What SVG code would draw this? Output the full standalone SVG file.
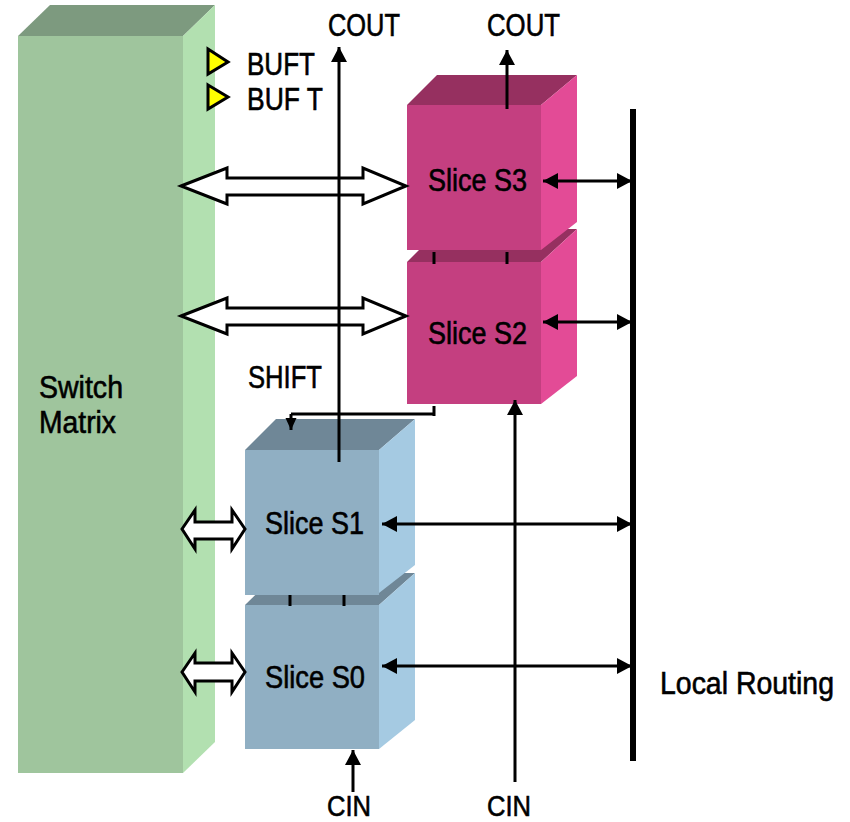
<svg xmlns="http://www.w3.org/2000/svg" width="850" height="822" viewBox="0 0 850 822">
<style>
text{font-family:"Liberation Sans",Arial,sans-serif;font-size:31px;fill:#000;stroke:#000;stroke-width:.6px}
.ln{stroke:#000;stroke-width:3;fill:none}
.hollow{fill:#fff;stroke:#000;stroke-width:3;stroke-linejoin:miter}
.fg{fill:#9fc59d}.tg{fill:#7d9a7f}.rg{fill:#b2e0b0}
.fm{fill:#c43f80}.tm{fill:#963060}.rm{fill:#e34b96}
.fb{fill:#90afc3}.tb{fill:#6f8797}.rb{fill:#a5cae2}
.cin{font-size:29px}
</style>
<defs>
<marker id="a" markerUnits="userSpaceOnUse" markerWidth="16" markerHeight="16" refX="15" refY="8" orient="auto-start-reverse"><path d="M0 0L15 8L0 16Z" fill="#000"/></marker>
<marker id="s" markerUnits="userSpaceOnUse" markerWidth="12" markerHeight="12" refX="12" refY="5.5" orient="auto"><path d="M0 0L12 5.5L0 11Z" fill="#000"/></marker>
</defs>
<g id="switch-matrix">
<polygon class="tg" points="18,36 50,5 215,5 183,36"/>
<polygon class="rg" points="183,36 215,5 215,742 183,773"/>
<rect class="fg" x="18" y="36" width="165" height="737"/>
<text x="39" y="398" textLength="84" lengthAdjust="spacingAndGlyphs">Switch</text>
<text x="39" y="433" textLength="77" lengthAdjust="spacingAndGlyphs">Matrix</text>
</g>
<g id="slice-s2">
<polygon class="tm" points="407,262 440,229 577,229 541,262"/>
<polygon class="rm" points="541,262 577,229 577,376 541,404"/>
<rect class="fm" x="407" y="262" width="134" height="142"/>
<text x="428" y="344" textLength="99" lengthAdjust="spacingAndGlyphs">Slice S2</text>
</g>
<g id="slice-s3">
<polygon class="tm" points="407,105 437,75 577,75 541,105"/>
<polygon class="rm" points="541,105 577,75 577,222 541,250"/>
<rect class="fm" x="407" y="105" width="134" height="145"/>
<text x="428" y="191" textLength="99" lengthAdjust="spacingAndGlyphs">Slice S3</text>
</g>
<g id="slice-s0">
<polygon class="tb" points="245,605 278,573 415,573 379,605"/>
<polygon class="rb" points="379,605 415,573 415,720 379,749"/>
<rect class="fb" x="245" y="605" width="134" height="144"/>
<text x="265" y="688" textLength="100" lengthAdjust="spacingAndGlyphs">Slice S0</text>
</g>
<g id="slice-s1">
<polygon class="tb" points="245,450 276,419 415,419 379,450"/>
<polygon class="rb" points="379,450 415,419 415,565 379,593"/>
<rect class="fb" x="245" y="450" width="134" height="145"/>
<text x="265" y="534" textLength="99" lengthAdjust="spacingAndGlyphs">Slice S1</text>
</g>
<g id="buft-1">
<polygon points="208,49 228,62 208,74" fill="#ff0" stroke="#000" stroke-width="3"/>
<text x="247" y="75" textLength="68" lengthAdjust="spacingAndGlyphs">BUFT</text>
</g>
<g id="buft-2">
<polygon points="208,85 228,97 208,109" fill="#ff0" stroke="#000" stroke-width="3"/>
<text x="247" y="110" textLength="76" lengthAdjust="spacingAndGlyphs">BUF T</text>
</g>
<g id="connectors">
<polygon class="hollow" points="181,186 227,168 227,178 363,178 363,168 406,186 363,204 363,195 227,195 227,204"/>
<polygon class="hollow" points="181,316 227,298 227,308 363,308 363,298 406,316 363,334 363,325 227,325 227,334"/>
<polygon class="hollow" points="182,529 195,510 195,522 232,522 232,510 245,529 232,549 232,539 195,539 195,549"/>
<polygon class="hollow" points="182,672 195,653 195,663 232,663 232,653 245,672 232,692 232,681 195,681 195,692"/>
<path class="ln" d="M339 462V47" marker-end="url(#a)"/>
<path class="ln" d="M507 109V50" marker-end="url(#a)"/>
<path class="ln" d="M543 181H632" marker-start="url(#a)" marker-end="url(#a)"/>
<path class="ln" d="M543 322H632" marker-start="url(#a)" marker-end="url(#a)"/>
<path class="ln" d="M382 524H632" marker-start="url(#a)" marker-end="url(#a)"/>
<path class="ln" d="M382 666H632" marker-start="url(#a)" marker-end="url(#a)"/>
<path class="ln" d="M353 792V750" marker-end="url(#a)"/>
<path class="ln" d="M515 782V400" marker-end="url(#a)"/>
<path class="ln" d="M434 406V416M434 414H291"/>
<path class="ln" d="M291 414V430" marker-end="url(#s)"/>
<path class="ln" d="M434 252V264M507 252V264M290 595V606M344 595V606"/>
<rect x="630" y="109" width="6" height="652" fill="#000"/>
</g>
<g id="labels">
<text x="328" y="36" textLength="72" lengthAdjust="spacingAndGlyphs">COUT</text>
<text x="487" y="36" textLength="73" lengthAdjust="spacingAndGlyphs">COUT</text>
<text x="248" y="388" textLength="74" lengthAdjust="spacingAndGlyphs">SHIFT</text>
<text class="cin" x="327" y="815.5" textLength="44" lengthAdjust="spacingAndGlyphs">CIN</text>
<text class="cin" x="487" y="815.5" textLength="44" lengthAdjust="spacingAndGlyphs">CIN</text>
<text x="660" y="694" textLength="174" lengthAdjust="spacingAndGlyphs">Local Routing</text>
</g>
</svg>
